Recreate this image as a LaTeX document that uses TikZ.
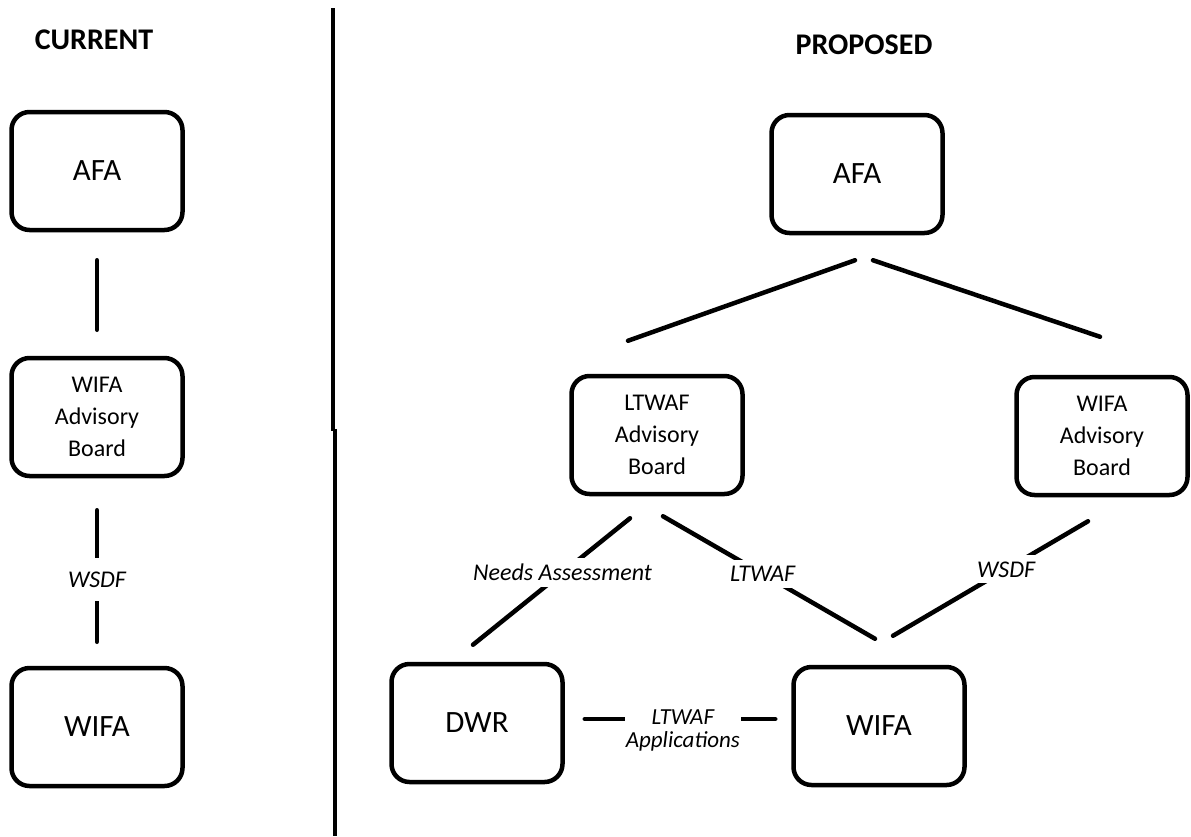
\documentclass[tikz,border=0pt]{standalone}
\usepackage{fontspec}
\setmainfont{Carlito}
\usetikzlibrary{calc, positioning}

\begin{document}
\begin{tikzpicture}[
    x=1pt, y=-1pt,
    box/.style={draw, line width=4.5pt, rounded corners=18pt, minimum width=171pt, minimum height=118pt, inner sep=0pt, align=center, font=\fontsize{24}{32}\selectfont},
    big/.style={font=\fontsize{31}{36}\selectfont},
    head/.style={font=\fontsize{30}{36}\selectfont\bfseries},
    link/.style={line width=4.5pt, line cap=round},
    lbl/.style={fill=white, inner sep=6pt, font=\fontsize{24}{24}\selectfont\itshape}
]
\useasboundingbox (0,0) rectangle (1191,836);

% Divider
\draw[line width=4pt] (333,8) -- (333,431) (334.5,429) -- (334.5,836);

% Nodes
\node[head] (curhead) at (94,40) {CURRENT};
\node[box, big] (cafa) at (97,171) {AFA};
\node[box] (cwab) at (97,417) {WIFA\\Advisory\\Board};
\node[box, big] (cwifa) at (97,727) {WIFA};

\node[head] (prophead) at (864,45) {PROPOSED};
\node[box, big] (pafa) at (857,174) {AFA};
\node[box] (pltwaf) at (657,435) {LTWAF\\Advisory\\Board};
\node[box] (pwab) at (1102,436) {WIFA\\Advisory\\Board};
\node[box, big] (pdwr) at (477,723) {DWR};
\node[box, big] (pwifa) at (879,726) {WIFA};

% Links
\draw[link, shorten <=28pt, shorten >=26pt] (cafa) -- (cwab);
\draw[link, shorten <=32pt, shorten >=24pt] (cwab) -- node[lbl, pos=0.54, inner ysep=14pt] {WSDF} (cwifa);

\draw[link] ($(pafa.south)+(-2,25)$) -- ($(pltwaf.north)+(-29,-33)$);
\draw[link] ($(pafa.south)+(16,25)$) -- ($(pwab.north)+(-2,-38)$);
\draw[link] ($(pltwaf.south)+(-27,22)$) -- node[lbl, pos=0.43] {Needs Assessment} ($(pdwr.north)+(-4,-17)$);
\draw[link] ($(pltwaf.south)+(6,20)$) -- node[lbl, pos=0.47] {LTWAF} ($(pwifa.north)+(-4,-26)$);
\draw[link] ($(pwab.south)+(-14,24)$) -- node[lbl, pos=0.42] {WSDF} ($(pwifa.north)+(14,-29)$);
\draw[link] ($(pdwr.east)+(20,-4)$) -- node[lbl, pos=0.515, inner xsep=1pt, yshift=-11pt, align=center, font=\fontsize{23}{23}\selectfont\itshape] {LTWAF\\Applications} ($(pwifa.west)+(-16,-7)$);

\end{tikzpicture}
\end{document}
